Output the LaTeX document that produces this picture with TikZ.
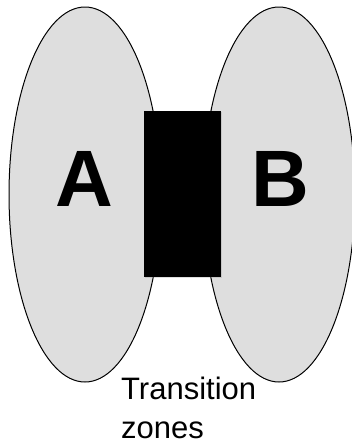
\documentclass[tikz,border=0pt]{standalone}
\usepackage{fontspec}
\setmainfont{Liberation Sans}
\usetikzlibrary{shapes.geometric,shadows}
\begin{document}
\begin{tikzpicture}[x=1pt,y=1pt,
  zone/.style={ellipse,draw=black,line width=1pt,fill=black!13,minimum width=152pt,minimum height=375pt,inner sep=0pt},
  letter/.style={font=\bfseries\fontsize{80}{96}\selectfont,inner sep=0pt},
  barrier/.style={rectangle,fill=black,minimum width=76.7pt,minimum height=166pt,inner sep=0pt,
    drop shadow={shadow xshift=1pt,shadow yshift=-1pt,opacity=0.25}},
  caption/.style={font=\fontsize{31}{39}\selectfont,align=left,inner sep=0pt}]
\useasboundingbox (0,0) rectangle (351,-442);
\node[zone] (ea) at (85,-194.5) {};
\node[zone] (eb) at (279,-194.5) {};
\node[barrier] (tz) at (182.4,-194) {};
\node[letter] (a) at (84.5,-178.5) {A};
\node[letter] (b) at (280.5,-178.5) {B};
\node[caption,anchor=base west] (cap) at (121,-438.5) {Transition\\zones};
\end{tikzpicture}
\end{document}
